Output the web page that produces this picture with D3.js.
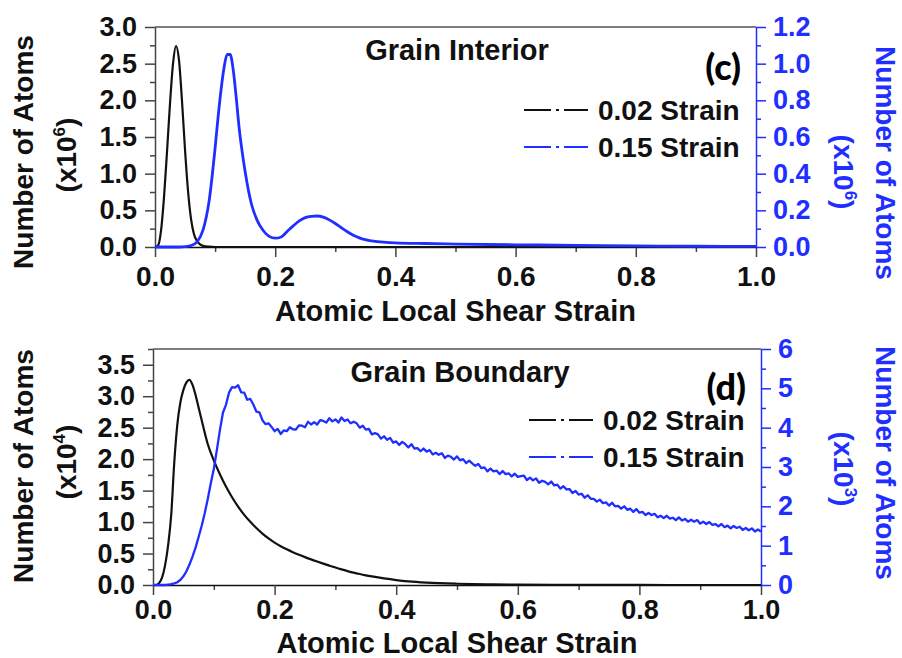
<!DOCTYPE html>
<html>
<head>
<meta charset="utf-8">
<script src="https://cdn.jsdelivr.net/npm/d3@7"></script>
<style>
  body { margin: 0; background: #fff; }
  svg text { font-family: "Liberation Sans", Arial, sans-serif; font-weight: bold; }
</style>
</head>
<body>
<svg id="chart" width="902" height="658"></svg>
<script>
// ---- tick values ----
const strainTicks = [0, 0.2, 0.4, 0.6, 0.8, 1.0];
const strainMinor = [0.1, 0.3, 0.5, 0.7, 0.9];
const giLeftTicks = [0, 0.5, 1.0, 1.5, 2.0, 2.5, 3.0];
const giLeftMinor = [0.25, 0.75, 1.25, 1.75, 2.25, 2.75];
const giRightTicks = [0, 0.2, 0.4, 0.6, 0.8, 1.0, 1.2];
const giRightMinor = [0.1, 0.3, 0.5, 0.7, 0.9, 1.1];
const gbLeftTicks = [0, 0.5, 1.0, 1.5, 2.0, 2.5, 3.0, 3.5];
const gbLeftMinor = [0.25, 0.75, 1.25, 1.75, 2.25, 2.75, 3.25, 3.75];
const gbRightTicks = [0, 1, 2, 3, 4, 5, 6];
const gbRightMinor = [0.5, 1.5, 2.5, 3.5, 4.5, 5.5];

// ---- labels ----
const seriesLabels = ["0.02 Strain", "0.15 Strain"];
const panelTitles = ["Grain Interior", "Grain Boundary"];
const panelTags = ["(c)", "(d)"];
const xTitle = "Atomic Local Shear Strain";
const yTitle = "Number of Atoms";
const exponents = { giLeft: "6", giRight: "6", gbLeft: "4", gbRight: "3" };

// ---- Grain interior: 0.02 strain (left axis, x10^6 atoms) ----
const gi002 = [
  [0, 0], [0.005, 0.02], [0.01, 0.22], [0.015, 0.68], [0.02, 1.30], [0.025, 1.96],
  [0.03, 2.50], [0.035, 2.74], [0.04, 2.54], [0.045, 1.98], [0.05, 1.32], [0.055, 0.76],
  [0.06, 0.38], [0.065, 0.17], [0.07, 0.08], [0.075, 0.035], [0.08, 0.015], [0.09, 0.004],
  [0.1, 0], [1.0, 0]
];
// ---- Grain interior: 0.15 strain (right axis, x10^6 atoms) ----
const gi015 = [
  [0, 0], [0.04, 0], [0.05, 0.002], [0.06, 0.008], [0.07, 0.028], [0.08, 0.093], [0.09, 0.25],
  [0.1, 0.54], [0.105, 0.71], [0.11, 0.86], [0.115, 0.98], [0.12, 1.05], [0.125, 1.05],
  [0.13, 0.97], [0.135, 0.82], [0.14, 0.65], [0.145, 0.52], [0.15, 0.41], [0.16, 0.24],
  [0.17, 0.145], [0.18, 0.09], [0.19, 0.058], [0.2, 0.048], [0.21, 0.055], [0.22, 0.085],
  [0.23, 0.115], [0.24, 0.142], [0.25, 0.16], [0.26, 0.167], [0.27, 0.169], [0.28, 0.163],
  [0.29, 0.148], [0.3, 0.128], [0.31, 0.105], [0.32, 0.083], [0.33, 0.064], [0.34, 0.05],
  [0.35, 0.04], [0.36, 0.033], [0.38, 0.027], [0.4, 0.023], [0.45, 0.019], [0.5, 0.016],
  [0.6, 0.012], [0.7, 0.009], [0.8, 0.006], [0.9, 0.004], [1.0, 0.003]
];
// ---- Grain boundary: 0.02 strain (left axis, x10^4 atoms) ----
const gb002 = [
  [0, 0], [0.005, 0], [0.01, 0.03], [0.015, 0.12], [0.02, 0.32], [0.025, 0.64], [0.03, 1.12],
  [0.035, 1.95], [0.04, 2.55], [0.045, 2.90], [0.05, 3.10], [0.055, 3.22], [0.06, 3.26],
  [0.065, 3.18], [0.07, 3.02], [0.075, 2.82], [0.08, 2.62], [0.09, 2.24], [0.1, 1.98],
  [0.11, 1.76], [0.12, 1.565], [0.13, 1.395], [0.14, 1.245], [0.15, 1.115], [0.16, 1.005],
  [0.17, 0.905], [0.18, 0.817], [0.19, 0.74], [0.2, 0.674], [0.21, 0.617], [0.22, 0.567],
  [0.23, 0.522], [0.24, 0.481], [0.25, 0.443], [0.26, 0.407], [0.27, 0.373], [0.28, 0.34],
  [0.29, 0.308], [0.3, 0.277], [0.31, 0.248], [0.32, 0.221], [0.33, 0.196], [0.34, 0.174],
  [0.35, 0.154], [0.36, 0.136], [0.38, 0.104], [0.4, 0.078], [0.42, 0.058], [0.45, 0.038],
  [0.5, 0.02], [0.55, 0.011], [0.6, 0.006], [0.7, 0.002], [0.8, 0.001], [0.9, 0], [1.0, 0]
];
// ---- Grain boundary: 0.15 strain (right axis, x10^3 atoms) ----
const gb015 = [
  [0, 0], [0.01, 0], [0.02, 0], [0.025, 0.01], [0.03, 0.02], [0.035, 0.04], [0.04, 0.07],
  [0.045, 0.13], [0.05, 0.22], [0.055, 0.35], [0.06, 0.52], [0.065, 0.72], [0.07, 0.95],
  [0.075, 1.22], [0.08, 1.50], [0.085, 1.82], [0.09, 2.18], [0.095, 2.58],
  [0.100, 2.95], [0.105, 3.43], [0.110, 3.93], [0.115, 4.38], [0.120, 4.58], [0.125, 4.89],
  [0.130, 5.03], [0.135, 5.02], [0.140, 5.08], [0.145, 4.90], [0.150, 4.89], [0.155, 4.71],
  [0.160, 4.73], [0.165, 4.59], [0.170, 4.41], [0.175, 4.39], [0.180, 4.19], [0.185, 4.09],
  [0.190, 4.11], [0.195, 4.02], [0.200, 3.91], [0.205, 3.97], [0.210, 3.84], [0.215, 3.93],
  [0.220, 3.91], [0.225, 4.01], [0.230, 3.96], [0.235, 3.95], [0.240, 4.06], [0.245, 4.05],
  [0.250, 4.01], [0.255, 4.15], [0.260, 4.08], [0.265, 4.14], [0.270, 4.08], [0.275, 4.19],
  [0.280, 4.17], [0.285, 4.13], [0.290, 4.24], [0.295, 4.16], [0.300, 4.21], [0.305, 4.13],
  [0.310, 4.26], [0.315, 4.17], [0.320, 4.21], [0.325, 4.11], [0.330, 4.15], [0.335, 4.11],
  [0.340, 4.00], [0.345, 4.05], [0.350, 3.95], [0.355, 3.97], [0.360, 3.83], [0.365, 3.86],
  [0.370, 3.83], [0.375, 3.72], [0.380, 3.78], [0.385, 3.69], [0.390, 3.74], [0.395, 3.62],
  [0.400, 3.65], [0.405, 3.56], [0.410, 3.64], [0.415, 3.58], [0.420, 3.50], [0.425, 3.58],
  [0.430, 3.47], [0.435, 3.48], [0.440, 3.40], [0.445, 3.47], [0.450, 3.39], [0.455, 3.43],
  [0.460, 3.32], [0.465, 3.36], [0.470, 3.31], [0.475, 3.35], [0.480, 3.23], [0.485, 3.29],
  [0.490, 3.26], [0.495, 3.19], [0.500, 3.27], [0.505, 3.17], [0.510, 3.20], [0.515, 3.10],
  [0.520, 3.16], [0.525, 3.09], [0.530, 3.03], [0.535, 3.08], [0.540, 2.97], [0.545, 2.99],
  [0.550, 2.89], [0.555, 2.96], [0.560, 2.89], [0.565, 2.91], [0.570, 2.82], [0.575, 2.90],
  [0.580, 2.82], [0.585, 2.84], [0.590, 2.76], [0.595, 2.83], [0.600, 2.75], [0.605, 2.77],
  [0.610, 2.78], [0.615, 2.67], [0.620, 2.73], [0.625, 2.66], [0.630, 2.71], [0.635, 2.60],
  [0.640, 2.65], [0.645, 2.62], [0.650, 2.56], [0.655, 2.63], [0.660, 2.53], [0.665, 2.55],
  [0.670, 2.45], [0.675, 2.51], [0.680, 2.43], [0.685, 2.44], [0.690, 2.34], [0.695, 2.39],
  [0.700, 2.30], [0.705, 2.32], [0.710, 2.22], [0.715, 2.28], [0.720, 2.19], [0.725, 2.19],
  [0.730, 2.12], [0.735, 2.17], [0.740, 2.08], [0.745, 2.10], [0.750, 2.02], [0.755, 2.09],
  [0.760, 2.00], [0.765, 2.01], [0.770, 1.94], [0.775, 2.00], [0.780, 1.91], [0.785, 1.94],
  [0.790, 1.86], [0.795, 1.93], [0.800, 1.84], [0.805, 1.86], [0.810, 1.78], [0.815, 1.83],
  [0.820, 1.78], [0.825, 1.81], [0.830, 1.72], [0.835, 1.76], [0.840, 1.70], [0.845, 1.76],
  [0.850, 1.69], [0.855, 1.71], [0.860, 1.65], [0.865, 1.72], [0.870, 1.64], [0.875, 1.68],
  [0.880, 1.61], [0.885, 1.66], [0.890, 1.61], [0.895, 1.65], [0.900, 1.56], [0.905, 1.61],
  [0.910, 1.55], [0.915, 1.60], [0.920, 1.53], [0.925, 1.55], [0.930, 1.49], [0.935, 1.55],
  [0.940, 1.47], [0.945, 1.51], [0.950, 1.44], [0.955, 1.50], [0.960, 1.45], [0.965, 1.48],
  [0.970, 1.40], [0.975, 1.45], [0.980, 1.39], [0.985, 1.44], [0.990, 1.36], [0.995, 1.41],
  [1.000, 1.36]
];

// ---- drawing ----
const BLUE = "#1f2fff";
const INK = "#111";
const AXIS_GREY = "#444";
const svg = d3.select("#chart");

function drawPanel(cfg) {
  const x = d3.scaleLinear().domain([0, 1]).range([cfg.x0, cfg.x1]);
  const yL = d3.scaleLinear().domain([0, cfg.leftMax]).range([cfg.y1, cfg.y0]);
  const yR = d3.scaleLinear().domain([0, cfg.rightMax]).range([cfg.y1, cfg.y0]);
  const g = svg.append("g");

  // frame top edge
  g.append("line")
    .attr("x1", cfg.x0).attr("x2", cfg.x1).attr("y1", cfg.y0).attr("y2", cfg.y0)
    .attr("stroke", "#555").attr("stroke-width", 1.5);

  const styleAxis = (sel, color, size) => {
    sel.selectAll("path.domain").attr("stroke", color).attr("stroke-width", 1.5);
    sel.selectAll(".tick line").attr("stroke", color).attr("stroke-width", 1.5);
    sel.selectAll(".tick text").attr("fill", color).style("font-size", size + "px");
  };

  // bottom axis
  g.append("g").attr("transform", `translate(0,${cfg.y1})`)
    .call(d3.axisBottom(x).tickValues(strainMinor).tickSize(5).tickFormat(""))
    .call(s => s.select(".domain").remove())
    .call(s => styleAxis(s, AXIS_GREY, 27));
  g.append("g").attr("transform", `translate(0,${cfg.y1})`)
    .call(d3.axisBottom(x).tickValues(strainTicks).tickSize(10).tickSizeOuter(0)
      .tickPadding(cfg.xPad).tickFormat(d3.format(".1f")))
    .call(s => styleAxis(s, AXIS_GREY, cfg.xTickFont))
    .call(s => s.select(".domain").attr("stroke", INK))
    .call(s => s.selectAll(".tick text").attr("fill", INK));

  // left axis
  g.append("g").attr("transform", `translate(${cfg.x0},0)`)
    .call(d3.axisLeft(yL).tickValues(cfg.leftMinor).tickSize(5).tickFormat(""))
    .call(s => s.select(".domain").remove())
    .call(s => styleAxis(s, AXIS_GREY, 27));
  g.append("g").attr("transform", `translate(${cfg.x0},0)`)
    .call(d3.axisLeft(yL).tickValues(cfg.leftTicks).tickSize(10).tickSizeOuter(0)
      .tickPadding(8).tickFormat(d3.format(".1f")))
    .call(s => styleAxis(s, AXIS_GREY, 27))
    .call(s => s.selectAll(".tick text").attr("fill", INK));

  // right axis
  g.append("g").attr("transform", `translate(${cfg.x1},0)`)
    .call(d3.axisRight(yR).tickValues(cfg.rightMinor).tickSize(5).tickFormat(""))
    .call(s => s.select(".domain").remove())
    .call(s => styleAxis(s, BLUE, 27));
  g.append("g").attr("transform", `translate(${cfg.x1},0)`)
    .call(d3.axisRight(yR).tickValues(cfg.rightTicks).tickSize(10).tickSizeOuter(0)
      .tickPadding(7).tickFormat(cfg.rightFormat))
    .call(s => styleAxis(s, BLUE, 27));

  // curves
  const lineL = d3.line().x(d => x(d[0])).y(d => yL(d[1])).curve(cfg.curveA);
  const lineR = d3.line().x(d => x(d[0])).y(d => yR(d[1])).curve(cfg.curveB);
  g.append("path").datum(cfg.seriesA).attr("d", lineL)
    .attr("fill", "none").attr("stroke", INK).attr("stroke-width", 2.2);
  g.append("path").datum(cfg.seriesB).attr("d", lineR)
    .attr("fill", "none").attr("stroke", BLUE).attr("stroke-width", cfg.blueWidth)
    .attr("stroke-linejoin", "round");

  // panel title and tag
  g.append("text").attr("x", cfg.titleX).attr("y", cfg.titleY)
    .attr("text-anchor", "middle").style("font-size", "29px").attr("fill", INK)
    .text(cfg.title);
  g.append("text").attr("x", cfg.x1 - 15).attr("y", cfg.tagY)
    .attr("text-anchor", "end").attr("fill", "#000")
    .style("font-family", "Lato, 'Open Sans', sans-serif").style("font-weight", "900")
    .style("font-size", "36px").text(cfg.tag);

  // legend
  const lg = g.append("g");
  [INK, BLUE].forEach((c, i) => {
    const ly = cfg.legendY + i * 37;
    lg.append("line").attr("x1", cfg.x1 - 232).attr("x2", cfg.x1 - 168)
      .attr("y1", ly).attr("y2", ly).attr("stroke", c).attr("stroke-width", 2)
      .attr("stroke-dasharray", "27 5 3 5 27");
    lg.append("text").attr("x", cfg.x1 - 158).attr("y", ly + 10)
      .style("font-size", "28px").attr("fill", INK).text(seriesLabels[i]);
  });

  // x axis title
  g.append("text").attr("x", (cfg.x0 + cfg.x1) / 2).attr("y", cfg.xTitleY)
    .attr("text-anchor", "middle").style("font-size", "29px").attr("fill", INK)
    .text(xTitle);

  // y axis titles (two lines each side)
  const yTitleBlock = (xLine1, xLine2, cy1, cy2, angle, color, exp) => {
    g.append("text").attr("transform", `translate(${xLine1},${cy1}) rotate(${angle})`)
      .attr("text-anchor", "middle").style("font-size", "28px").attr("fill", color)
      .text(yTitle);
    const t = g.append("text").attr("transform", `translate(${xLine2},${cy2}) rotate(${angle})`)
      .attr("text-anchor", "middle").style("font-size", "28px").attr("fill", color);
    t.append("tspan").text("(x10");
    t.append("tspan").attr("dy", -11).style("font-size", "17px").text(exp);
    t.append("tspan").attr("dy", 11).text(")");
  };
  yTitleBlock(33, 76, cfg.lTitleY, cfg.lSubY, -90, INK, cfg.expL);
  yTitleBlock(876, 834, cfg.rTitleY, cfg.rSubY, 90, BLUE, cfg.expR);
}

drawPanel({
  x0: 155, x1: 756, y0: 27, y1: 247,
  leftMax: 3.0, rightMax: 1.2,
  leftTicks: giLeftTicks, leftMinor: giLeftMinor,
  rightTicks: giRightTicks, rightMinor: giRightMinor,
  rightFormat: d3.format(".1f"),
  seriesA: gi002, seriesB: gi015,
  curveA: d3.curveMonotoneX, curveB: d3.curveMonotoneX, blueWidth: 2.8,
  title: panelTitles[0], titleX: 457, titleY: 60,
  tag: panelTags[0], tagY: 80,
  legendY: 110, xPad: 9, xTickFont: 28, xTitleY: 321,
  lTitleY: 152, lSubY: 155, rTitleY: 163, rSubY: 172,
  expL: exponents.giLeft, expR: exponents.giRight
});

drawPanel({
  x0: 153, x1: 761, y0: 349, y1: 585,
  leftMax: 3.75, rightMax: 6,
  leftTicks: gbLeftTicks, leftMinor: gbLeftMinor,
  rightTicks: gbRightTicks, rightMinor: gbRightMinor,
  rightFormat: d3.format("d"),
  seriesA: gb002, seriesB: gb015,
  curveA: d3.curveMonotoneX, curveB: d3.curveLinear, blueWidth: 2.3,
  title: panelTitles[1], titleX: 460, titleY: 382,
  tag: panelTags[1], tagY: 400,
  legendY: 420, xPad: 5, xTickFont: 27, xTitleY: 653,
  lTitleY: 466, lSubY: 462, rTitleY: 463, rSubY: 469,
  expL: exponents.gbLeft, expR: exponents.gbRight
});
</script>
</body>
</html>
